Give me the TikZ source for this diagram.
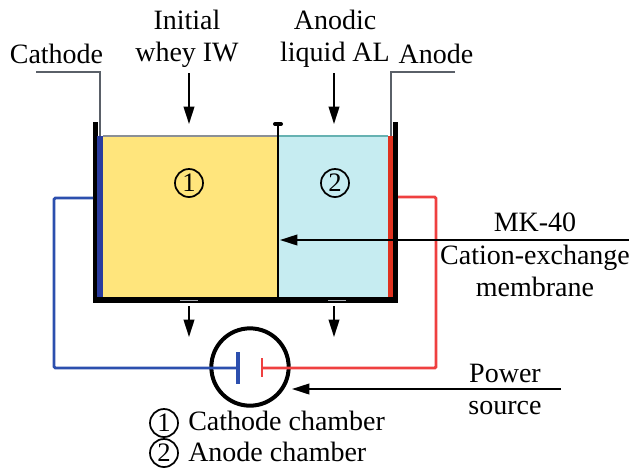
\documentclass[tikz,border=0pt]{standalone}
\usepackage{fontspec}
\setmainfont{Liberation Serif}
\usetikzlibrary{arrows.meta, positioning}
\definecolor{jaune}{HTML}{FFE57C}
\definecolor{cyanclair}{HTML}{C6ECF1}
\definecolor{bleu}{HTML}{2C4FAE}
\definecolor{bleufonce}{HTML}{2A3C9E}
\definecolor{rouge}{HTML}{EF4040}
\definecolor{rougefonce}{HTML}{E0321F}
\definecolor{gris}{HTML}{5A6068}
\tikzset{
  etiquette/.style={font=\fontsize{21}{24}\selectfont, align=center, inner sep=0},
  numero/.style={circle, draw=black, line width=1.3pt, minimum size=21pt, inner sep=0,
    font=\fontsize{20}{24}\selectfont},
  fleche/.style={-{Stealth[length=13pt, width=8pt, inset=0pt]}, line width=1.3pt},
  paroi/.style={line width=4.2pt, black},
  repere/.style={line width=1.1pt, color=gris},
  filbleu/.style={line width=2.2pt, color=bleu, rounded corners=1pt},
  filrouge/.style={line width=2.2pt, color=rouge, rounded corners=1pt}
}
\begin{document}
\begin{tikzpicture}[x=0.75pt, y=-0.75pt]
  \useasboundingbox (0,0) rectangle (629,469);
  % cuve
  \fill[jaune] (103,136) rectangle (277,297);
  \fill[cyanclair] (279,136) rectangle (388,297);
  \draw[gris!70, line width=1pt] (103,136) -- (277,136);
  \draw[teal!60, line width=1pt] (279,136) -- (388,136);
  \draw[paroi] (95.5,122) -- (95.5,300) -- (395.5,300) -- (395.5,122);
  \fill[bleufonce] (97,136) rectangle (103,297);
  \fill[rougefonce] (388,136) rectangle (393,297);
  \coordinate (haut) at (278,124);
  \coordinate (bas) at (278,297);
  \draw[line width=2.2pt] (haut) -- (bas);
  \draw[line width=3pt, line cap=round] (275,124) -- (281,124);
  \draw[gris!50, line width=1.4pt] (180,300.5) -- (198,300.5);
  \draw[gris!50, line width=1.4pt] (328,300.5) -- (346,300.5);

  \node[numero] (un) at (189,183) {1};
  \node[numero] (deux) at (335,183) {2};

  % textes du haut
  \node[etiquette] (initial) at (187,38.5) {Initial\\whey IW};
  \node[etiquette] (anodic) at (335,38.5) {Anodic\\liquid AL};
  \node[etiquette] (cathode) at (56.5,54) {Cathode};
  \node[etiquette] (anode) at (436,54) {Anode};
  \coordinate (entree1) at (189,73);
  \coordinate (entree2) at (334,73);
  \coordinate (fond1) at (189,124);
  \coordinate (fond2) at (334,124);
  \draw[fleche] (entree1) -- (fond1);
  \draw[fleche] (entree2) -- (fond2);
  \coordinate (sortie1) at (189,306);
  \coordinate (sortie2) at (334,306);
  \coordinate (vers1) at (189,337);
  \coordinate (vers2) at (334,337);
  \draw[fleche] (sortie1) -- (vers1);
  \draw[fleche] (sortie2) -- (vers2);

  % reperes electrodes
  \coordinate (repcath) at (36,72);
  \coordinate (elcath) at (100,136);
  \coordinate (repan) at (455,72);
  \coordinate (elan) at (391,136);
  \draw[repere] (repcath) -| (elcath);
  \draw[repere] (repan) -| (elan);

  % source
  \node[circle, draw=black, line width=3pt, minimum size=58pt, inner sep=0] (source) at (250,367) {};
  \coordinate (plaqueb) at (238,368);
  \coordinate (plaquer) at (262,368);
  \coordinate (sortb) at (93,198);
  \coordinate (sortr) at (398,197);
  \draw[filbleu] (sortb) -| (54,368) -- (plaqueb);
  \draw[filrouge] (sortr) -| (436,368) -- (plaquer);
  \draw[line width=2.6pt, color=bleu] (238,352) -- (238,384);
  \draw[line width=2.2pt, color=rouge] (262,358) -- (262,377);

  % membrane
  \coordinate (mem) at (629,240);
  \coordinate (cible) at (280,240);
  \draw[fleche] (mem) -- (cible);
  \node[etiquette] (mk) at (535,222.5) {MK-40};
  \node[etiquette] (cation) at (535,270.5) {Cation-exchange\\membrane};

  % alimentation
  \coordinate (pow) at (561,389);
  \coordinate (powc) at (292,389);
  \draw[fleche] (pow) -- (powc);
  \node[etiquette] (power) at (505,389.5) {Power\\source};

  % legende
  \node[numero] (leg1) at (164,423) {1};
  \node[numero] (leg2) at (164,453) {2};
  \node[etiquette, anchor=base west] (txt1) at (188,430) {Cathode chamber};
  \node[etiquette, anchor=base west] (txt2) at (188,461) {Anode chamber};
\end{tikzpicture}
\end{document}
